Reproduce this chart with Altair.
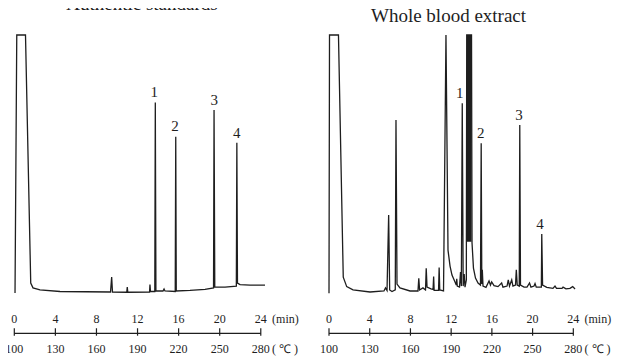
import altair as alt
import pandas as pd

# ---------------- data (time in min, detector signal in arbitrary units) -------------
left_t = [0.07, 0.24, 1.09, 1.60, 1.82, 2.50, 4.45, 9.37, 9.48, 9.56,
          10.95, 11.00, 11.05, 13.17, 13.21, 13.26, 13.68, 13.73, 13.79, 14.48,
          14.58, 14.67, 15.67, 15.72, 15.77, 17.11, 18.57, 19.40, 19.45, 19.52,
          20.52, 21.62, 21.67, 21.73, 21.98, 22.95, 24.41]
left_s = [-0.4, 100, 100, 3.5, 1.6, 0.8, 0.2, 0, 5.8, 0,
          -0.1, 1.9, -0.1, 0, 2.9, 0.2, 0.2, 73.7, 0.4, 0.4,
          1.2, 0.4, 0.2, 60.4, 0.4, 0.6, 1.0, 1.6, 70.8, 1.9,
          1.9, 2.3, 58.1, 3.5, 2.9, 2.7, 2.7]

right_t = [0.00, 0.05, 0.93, 1.40, 1.74, 2.36, 4.03, 5.40, 5.55, 5.70,
           5.86, 5.96, 6.19, 6.51, 6.58, 6.68, 6.97, 7.96, 8.74, 8.82,
           8.90, 9.23, 9.48, 9.55, 9.63, 10.02, 10.22, 10.28, 10.33, 10.76,
           10.82, 10.88, 11.25, 11.49, 11.69, 11.89, 12.08, 12.38, 12.50, 12.55,
           12.60, 12.82, 12.92, 13.00, 13.09, 13.18, 13.28, 13.36, 13.49, 13.53,
           14.00, 14.05, 14.19, 14.39, 14.64, 14.88, 14.95, 15.01, 15.06, 15.13,
           15.42, 15.72, 15.86, 15.98, 16.21, 16.60, 16.96, 17.09, 17.49, 17.61,
           17.73, 17.95, 18.07, 18.32, 18.40, 18.49, 18.69, 18.74, 18.81, 19.16,
           19.45, 19.70, 19.84, 20.14, 20.24, 20.36, 20.86, 20.90, 20.98, 21.39,
           22.00, 22.20, 22.35, 22.89, 22.99, 23.28, 23.67, 23.94, 24.17]
right_s = [-0.5, 100, 100, 5.8, 2.1, 0.8, 0, 0.4, 1.6, 0.6,
           30.0, 0.8, 0.2, 0.8, 66.9, 3.1, 1.6, 0.4, 0.4, 5.3,
           0.8, 1.6, 0.8, 9.2, 1.9, 1.2, 1.0, 6.0, 0.6, 0.6,
           9.5, 0.8, 0.4, 100, 16.3, 10.1, 6.6, 3.9, 2.7, 5.1,
           2.3, 1.9, 7.8, 2.3, 73.4, 2.3, 7.0, 1.9, 4.7, 100,
           100, 19.1, 9.3, 5.4, 3.5, 2.7, 57.9, 3.1, 8.6, 2.3,
           1.8, 4.3, 2.7, 3.9, 2.5, 2.1, 3.5, 1.9, 2.3, 4.7,
           2.3, 4.7, 2.3, 2.7, 8.6, 2.7, 2.3, 65.0, 2.7, 1.9,
           1.9, 3.5, 1.9, 2.3, 3.3, 1.9, 1.9, 22.6, 2.7, 1.8,
           1.4, 2.3, 1.4, 1.4, 1.9, 1.2, 1.4, 2.1, 1.2]

# overloaded (saturated) peak in the blood extract, drawn filled
thick_t0 = [13.53]
thick_t1 = [14.00]
thick_s0 = [19.6]
thick_s1 = [100]

peak_ids = ["1", "2", "3", "4"]
left_label_t = [13.63, 15.65, 19.47, 21.66]
left_label_s = [76.0, 62.8, 72.8, 59.8]
right_label_t = [12.84, 14.90, 18.66, 20.73]
right_label_s = [75.4, 59.8, 66.9, 24.4]

time_ticks = [0, 4, 8, 12, 16, 20, 24]
temp_labels = [100, 130, 160, 190, 220, 250, 280]
unit_labels = ["(min)", "( ℃ )"]

titles = ["Authentic standards", "Whole blood extract"]
title_t = [12.43, 11.74]
title_s = [109.7, 105.2]

# ---------------- layout constants -------------
W, H = 605, 350
Y_DOMAIN = [-25.68, 110.51]
AXIS_S, TICK_TOP, TICK_BOT = -16.07, -14.1, -17.0
MIN_LABEL_S, TEMP_LABEL_S = -12.2, -23.85
UNIT_T = 25.1
INK = "#1e1e1e"
FONT = "Liberation Serif"

# px position of 0 min (relative to plot origin) and px per min for each panel
LEFT_X0, LEFT_PPM = 6.3, 10.27
RIGHT_X0, RIGHT_PPM = 321.0, 10.18


def panel(t, s, lab_t, lab_s, title, tt, ts, x0, ppm, thick=None):
    xs = alt.Scale(domain=[-x0 / ppm, (W - x0) / ppm], nice=False, zero=False)
    ys = alt.Scale(domain=Y_DOMAIN, nice=False, zero=False)

    def X(f):
        return alt.X(f, type="quantitative", scale=xs, axis=None)

    def Y(f):
        return alt.Y(f, type="quantitative", scale=ys, axis=None)

    trace = pd.DataFrame({"t": t, "s": s, "i": range(len(t))})
    line = alt.Chart(trace).mark_line(color=INK, strokeWidth=1.3).encode(
        x=X("t"), y=Y("s"), order="i:Q")

    labels = pd.DataFrame({"t": lab_t, "s": lab_s, "lab": peak_ids})
    lab = alt.Chart(labels).mark_text(font=FONT, fontSize=15, color=INK,
                                      baseline="alphabetic", align="center").encode(
        x=X("t"), y=Y("s"), text="lab:N")

    ttl = alt.Chart(pd.DataFrame({"t": [tt], "s": [ts], "txt": [title]})).mark_text(
        font=FONT, fontSize=19, color=INK, baseline="alphabetic", align="center").encode(
        x=X("t"), y=Y("s"), text="txt:N")

    axis_df = pd.DataFrame({"a": [min(time_ticks)], "b": [max(time_ticks)], "y": [AXIS_S]})
    axis_line = alt.Chart(axis_df).mark_rule(color=INK, strokeWidth=1.2).encode(
        x=X("a"), x2="b:Q", y=Y("y"))

    tick_df = pd.DataFrame({"t": time_ticks, "temp": temp_labels,
                            "y0": [TICK_TOP] * len(time_ticks),
                            "y1": [TICK_BOT] * len(time_ticks),
                            "ym": [MIN_LABEL_S] * len(time_ticks),
                            "yc": [TEMP_LABEL_S] * len(time_ticks)})
    ticks = alt.Chart(tick_df).mark_rule(color=INK, strokeWidth=1.2).encode(
        x=X("t"), y=Y("y0"), y2="y1:Q")
    min_lab = alt.Chart(tick_df).mark_text(font=FONT, fontSize=12, color=INK,
                                           baseline="alphabetic").encode(
        x=X("t"), y=Y("ym"), text="t:Q")
    temp_lab = alt.Chart(tick_df).mark_text(font=FONT, fontSize=12, color=INK,
                                            baseline="alphabetic").encode(
        x=X("t"), y=Y("yc"), text="temp:Q")

    unit_df = pd.DataFrame({"t": [UNIT_T, UNIT_T], "s": [MIN_LABEL_S, TEMP_LABEL_S],
                            "u": unit_labels})
    units = alt.Chart(unit_df).mark_text(font=FONT, fontSize=12, color=INK,
                                         baseline="alphabetic", align="left").encode(
        x=X("t"), y=Y("s"), text="u:N")

    layers = [line, lab, ttl, axis_line, ticks, min_lab, temp_lab, units]
    if thick is not None:
        tdf = pd.DataFrame(thick)
        rect = alt.Chart(tdf).mark_rect(color=INK).encode(
            x=X("t0"), x2="t1:Q", y=Y("s0"), y2="s1:Q")
        layers.append(rect)
    return alt.layer(*layers)


left = panel(left_t, left_s, left_label_t, left_label_s, titles[0], title_t[0], title_s[0],
             LEFT_X0, LEFT_PPM)
right = panel(right_t, right_s, right_label_t, right_label_s, titles[1], title_t[1], title_s[1],
              RIGHT_X0, RIGHT_PPM,
              thick={"t0": thick_t0, "t1": thick_t1, "s0": thick_s0, "s1": thick_s1})

chart = alt.layer(left, right).resolve_scale(x="independent").properties(
    width=W, height=H, padding=0, autosize=alt.AutoSizeParams(type="none"),
    background="white"
).configure_view(stroke=None)

chart.save("out.html", embed_options={"renderer": "svg", "actions": False})
